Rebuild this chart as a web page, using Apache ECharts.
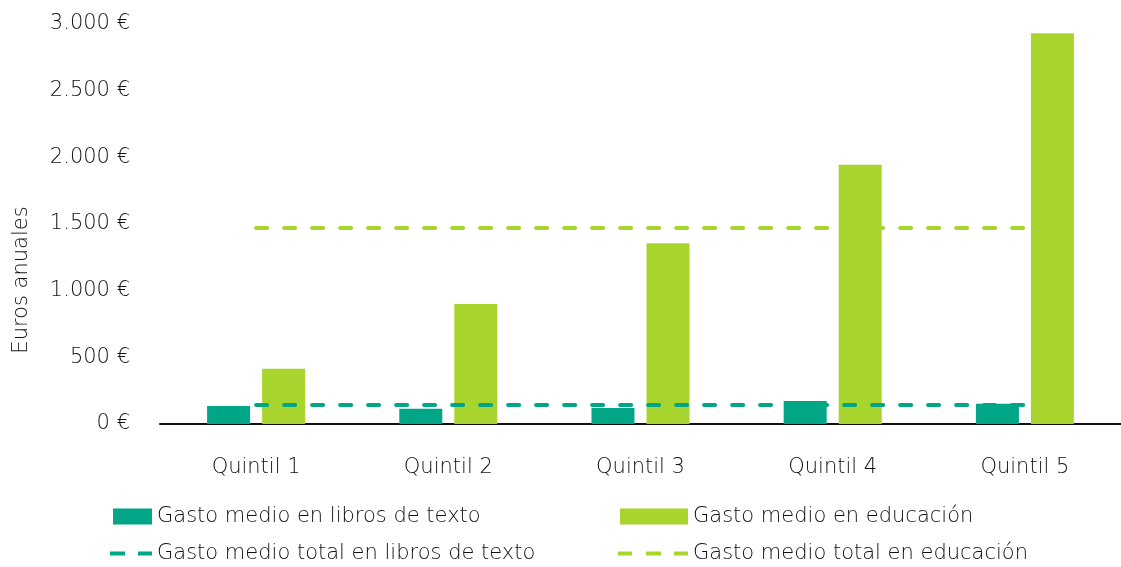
<!DOCTYPE html>
<html>
<head>
<meta charset="utf-8">
<script src="https://cdn.jsdelivr.net/npm/echarts@6/dist/echarts.min.js"></script>
<style>
html,body{margin:0;padding:0;background:#fff;}
#chart{width:1121px;height:567px;}
</style>
</head>
<body>
<div id="chart"></div>
<script>
const categories = ['Quintil 1', 'Quintil 2', 'Quintil 3', 'Quintil 4', 'Quintil 5'];
const librosTexto = [135, 115, 120, 172, 152];
const educacion = [415, 900, 1355, 1945, 2930];
const totalLibros = [142, 142, 142, 142, 142];
const totalEducacion = [1470, 1470, 1470, 1470, 1470];
const seriesNames = ['Gasto medio en libros de texto', 'Gasto medio en educación', 'Gasto medio total en libros de texto', 'Gasto medio total en educación'];
const yTicks = { min: 0, max: 3000, interval: 500 };
const yTitle = 'Euros anuales';

const DARK = '#00a685';
const LIGHT = '#a8d42e';
const FONT = 'DejaVu Sans';
const textStyle = { fontFamily: FONT, fontWeight: 200, fontSize: 21, color: '#111' };

function fmt(v) {
  return String(v).replace(/\B(?=(\d{3})+(?!\d))/g, '.') + ' €';
}

const chart = echarts.init(document.getElementById('chart'), null, { renderer: 'canvas' });
chart.setOption({
  animation: false,
  backgroundColor: '#fff',
  textStyle: { fontFamily: FONT },
  grid: { left: 160, right: -3, top: 24, bottom: 143, containLabel: false },
  xAxis: {
    type: 'category',
    data: categories,
    axisLine: { lineStyle: { color: '#111', width: 2 } },
    axisTick: { show: false },
    axisLabel: Object.assign({ margin: 33 }, textStyle),
    splitLine: { show: false }
  },
  yAxis: {
    type: 'value',
    min: yTicks.min, max: yTicks.max, interval: yTicks.interval,
    axisLine: { show: false },
    axisTick: { show: false },
    splitLine: { show: false },
    axisLabel: Object.assign({ margin: 30, formatter: fmt, padding: [5, 0, 0, 0] }, textStyle)
  },
  graphic: [{
    type: 'text',
    x: 22, y: 280,
    rotation: Math.PI / 2,
    style: { text: yTitle, fill: '#111', font: '200 21px "DejaVu Sans"', align: 'center', verticalAlign: 'middle' }
  }],
  legend: [
    { data: [seriesNames[0]], left: 108, top: 501, icon: 'rect', itemWidth: 39, itemHeight: 16, textStyle: textStyle, selectedMode: false },
    { data: [seriesNames[1]], left: 615, top: 501, icon: 'rect', itemWidth: 68, itemHeight: 16, textStyle: textStyle, selectedMode: false },
    { data: [{ name: seriesNames[2], icon: 'path://M0,0h15v4h-15z M28,0h14v4h-14z' }], left: 105, top: 538, itemWidth: 42, itemHeight: 4, textStyle: textStyle, selectedMode: false },
    { data: [{ name: seriesNames[3], icon: 'path://M0,0h14v4h-14z M28,0h15v4h-15z M56,0h14v4h-14z' }], left: 613, top: 538, itemWidth: 70, itemHeight: 4, textStyle: textStyle, selectedMode: false }
  ],
  series: [
    { name: seriesNames[0], type: 'bar', data: librosTexto, barWidth: 43, barGap: '28%', itemStyle: { color: DARK } },
    { name: seriesNames[1], type: 'bar', data: educacion, barWidth: 43, barGap: '28%', itemStyle: { color: LIGHT } },
    { name: seriesNames[2], type: 'line', data: totalLibros, symbol: 'none', z: 5,
      lineStyle: { color: DARK, width: 4, type: [11, 17], cap: 'round' }, itemStyle: { color: DARK } },
    { name: seriesNames[3], type: 'line', data: totalEducacion, symbol: 'none', z: 5,
      lineStyle: { color: LIGHT, width: 4, type: [11, 17], cap: 'round' }, itemStyle: { color: LIGHT } }
  ]
});
</script>
</body>
</html>
